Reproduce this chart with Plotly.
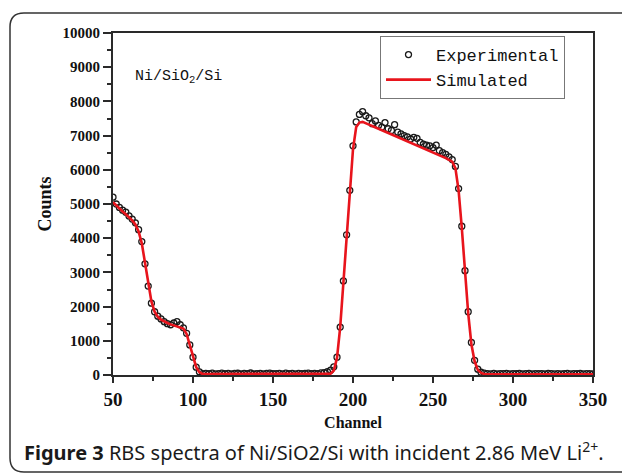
import plotly.graph_objects as go

channels = list(range(50, 351, 2))

simulated = [
    5050, 4950, 4850, 4780, 4700, 4620, 4520, 4400, 4200, 3850,
    3300, 2650, 2150, 1850, 1700, 1620, 1560, 1520, 1480, 1450,
    1430, 1400, 1360, 1200, 850, 500, 230, 80, 30,
    27, 27, 26, 26, 26, 25, 25, 25, 25, 25, 25, 25, 25, 25, 25, 25, 25, 25, 25, 25,
    25, 25, 25, 25, 25, 25, 25, 25, 25, 25, 25, 25, 25, 25, 25, 25, 26, 28, 32,
    40, 130, 500, 1400, 2700, 4000, 5300, 6600, 7250, 7380,
    7400, 7370, 7320, 7280, 7240, 7200, 7160, 7110, 7070, 7030,
    6990, 6950, 6900, 6860, 6820, 6780, 6740, 6700, 6660, 6620,
    6580, 6540, 6500, 6460, 6420, 6380, 6340, 6290, 6240, 6050,
    5400, 4300, 3000, 1800, 900, 400, 150, 60, 30,
    22, 21, 20, 20, 20, 20, 20, 20, 20, 20, 20, 20, 20, 20, 20, 20, 20,
    20, 20, 20, 20, 20, 20, 20, 20, 20, 20, 20, 20, 20, 20, 20, 20, 20,
]

experimental = [
    5200, 5000, 4900, 4820, 4760, 4650, 4560, 4450, 4250, 3900,
    3250, 2600, 2100, 1850, 1720, 1640, 1560, 1500, 1470, 1520,
    1560, 1470, 1380, 1220, 880, 520, 230, 90, 40,
    45, 38, 52, 30, 41, 55, 36, 48, 29, 44, 51, 33, 47, 39, 58, 35, 42, 50, 31, 46,
    53, 37, 43, 49, 34, 56, 40, 45, 32, 50, 38, 47, 54, 36, 44, 41, 60, 72, 95,
    140, 240, 520, 1400, 2750, 4100, 5400, 6700, 7400, 7620,
    7700, 7580, 7520, 7350, 7430, 7300, 7250, 7380, 7200, 7150,
    7320, 7100, 7050, 7000, 6960, 6900, 6950, 6920, 6800, 6750,
    6720, 6700, 6650, 6720, 6560, 6500, 6450, 6380, 6300, 6100,
    5450, 4350, 3050, 1850, 950, 430, 170, 80, 55,
    40, 35, 48, 30, 42, 38, 45, 33, 40, 36, 44, 31, 39, 47, 34, 41, 37,
    43, 30, 45, 38, 35, 42, 33, 40, 46, 32, 39, 36, 44, 31, 41, 37, 35,
]

x_ticks = [50, 100, 150, 200, 250, 300, 350]
y_ticks = [0, 1000, 2000, 3000, 4000, 5000, 6000, 7000, 8000, 9000, 10000]
y_tick_labels = ["0", "1000", "2000", "3000", "4000", "5000", "6000", "7000", "8000", "9000", "10000"]

SERIF = "Liberation Serif"
MONO = "Liberation Mono"

fig = go.Figure()
fig.add_trace(go.Scatter(
    x=channels, y=experimental, mode="markers", name="Experimental",
    marker=dict(symbol="circle-open", size=6, color="#1a1a1a", line=dict(width=1.3)),
))
fig.add_trace(go.Scatter(
    x=channels, y=simulated, mode="lines", name="Simulated",
    line=dict(color="#e8141c", width=2.6),
))

L, R, T, B = 113, 29, 33, 101
W, H = 622, 476
pw, ph = W - L - R, H - T - B

def px(xp):
    return (xp - L) / pw

def py(yp):
    return (H - B - yp) / ph

axis_common = dict(
    showline=True, linecolor="#2a2a2a", linewidth=2, mirror=True,
    ticks="outside", tickcolor="#2a2a2a", tickwidth=1.5,
    showgrid=False, zeroline=False,
)

fig.update_xaxes(
    range=[50, 350], tickvals=x_ticks, ticktext=[str(v) for v in x_ticks], ticklen=6,
    tickfont=dict(family=SERIF, size=19, color="#111", weight="bold"),
    title=dict(text="Channel", font=dict(family=SERIF, size=16, color="#111", weight="bold"), standoff=8),
    minor=dict(dtick=25, ticklen=4, ticks="outside", tickcolor="#2a2a2a", tickwidth=1.5),
    **axis_common,
)
fig.update_yaxes(
    range=[0, 10000], tickvals=y_ticks, ticktext=y_tick_labels, ticklen=8,
    tickfont=dict(family=SERIF, size=15, color="#111", weight="bold"),
    title=dict(text="Counts", font=dict(family=SERIF, size=18, color="#111", weight="bold"), standoff=6),
    minor=dict(dtick=500, ticklen=4, ticks="outside", tickcolor="#2a2a2a", tickwidth=1.5),
    **axis_common,
)

# rounded frame
x0, x1 = px(10), px(640)
y0, y1 = py(472), py(13)
rx, ry = 14 / pw, 14 / ph
frame_path = (
    f"M {x0},{y1 - ry} Q {x0},{y1} {x0 + rx},{y1} L {x1},{y1} L {x1},{y0} "
    f"L {x0 + rx},{y0} Q {x0},{y0} {x0},{y0 + ry} Z"
)
fig.add_shape(type="path", path=frame_path, xref="paper", yref="paper",
              line=dict(color="#333", width=1.5), layer="below")

fig.add_annotation(
    x=px(133), y=py(77), xref="paper", yref="paper", xanchor="left", yanchor="middle",
    text="Ni/SiO<sub>2</sub>/Si", showarrow=False,
    font=dict(family=MONO, size=15, color="#111"),
)
fig.add_annotation(
    x=px(22), y=py(451), xref="paper", yref="paper", xanchor="left", yanchor="middle",
    text="<b>Figure 3</b> RBS spectra of Ni/SiO2/Si with incident 2.86 MeV Li<sup>2+</sup>.",
    showarrow=False, font=dict(family="Noto Sans", size=20, color="#1a1a1a"),
)

fig.update_layout(
    width=W, height=H,
    margin=dict(l=L, r=R, t=T, b=B),
    paper_bgcolor="white", plot_bgcolor="white",
    showlegend=True,
    legend=dict(
        x=px(565), y=py(36), xanchor="right", yanchor="top",
        bgcolor="white", bordercolor="#777", borderwidth=1,
        font=dict(family=MONO, size=17, color="#111"),
        tracegroupgap=0, itemwidth=45,
    ),
)

fig.write_html("out.html")
